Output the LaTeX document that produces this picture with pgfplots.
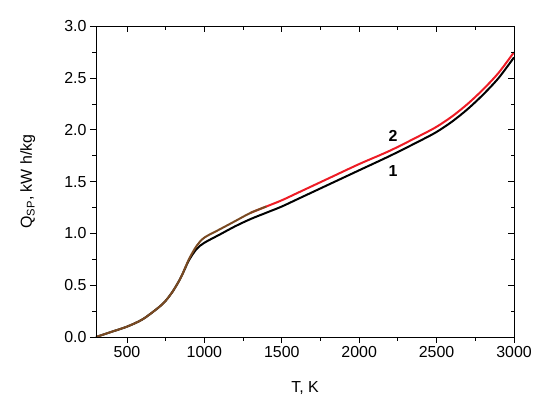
\documentclass[border=0pt]{standalone}
\usepackage{fontspec}
\setmainfont{Liberation Sans}
\usepackage{pgfplots}
\pgfplotsset{compat=1.18}
\definecolor{curvered}{HTML}{EE1C25}
\definecolor{curvebrown}{HTML}{7A4A22}

\begin{document}
\begin{tikzpicture}[x=1bp,y=1bp]
\path[use as bounding box] (-96,-69) rectangle (454,337);
\pgfplotsset{
  chartbase/.style={
    at={(0,0)}, anchor=south west,
    scale only axis, width=418bp, height=310.7bp,
    xmin=300, xmax=3000, ymin=0, ymax=3,
    xtick={500,1000,...,3000}, ytick={0,0.5,...,3},
    minor x tick num=1, minor y tick num=1,
    major tick length=6bp, minor tick length=3.5bp,
    axis line style={line width=0.9bp},
    every tick/.style={line width=0.9bp, black},
    /pgf/number format/assume math mode=true,
  },
}
% left and bottom: ticks outside, with labels
\begin{axis}[chartbase,
  xtick pos=bottom, ytick pos=left, tick align=outside,
  xticklabel style={font=\fontsize{16}{18}\selectfont, /pgf/number format/1000 sep={}},
  yticklabel style={font=\fontsize{16}{18}\selectfont, /pgf/number format/.cd, fixed, fixed zerofill, precision=1},
  xlabel={T, K}, ylabel={Q\textsubscript{SP}, kW h/kg},
  label style={font=\fontsize{16}{18}\selectfont},
  xlabel style={at={(axis description cs:0.5,-0.164)}, anchor=center},
  ylabel style={at={(axis description cs:-0.163,0.5)}, anchor=center},
]
% curve 1
\addplot[black, line width=2bp, smooth, tension=0.5] coordinates {
(300,0.0) (400,0.05) (500,0.10) (600,0.17) (700,0.28) (750,0.35) (800,0.45) (850,0.58)
(900,0.74) (950,0.85) (1000,0.91) (1100,0.99) (1200,1.07) (1300,1.14)
(1400,1.20) (1500,1.26) (1600,1.33) (1800,1.47) (2000,1.61) (2200,1.75)
(2400,1.90) (2500,1.98) (2600,2.08) (2700,2.20) (2800,2.34) (2900,2.50) (3000,2.70)};
% curve 2
\addplot[curvered, line width=2bp, smooth, tension=0.5] coordinates {
(1300,1.20) (1400,1.26) (1500,1.32) (1600,1.39) (1800,1.53) (2000,1.67)
(2200,1.80) (2400,1.95) (2500,2.03) (2600,2.13) (2700,2.25) (2800,2.39)
(2900,2.55) (3000,2.75)};
\addplot[curvebrown, line width=2bp, smooth, tension=0.5] coordinates {
(300,0.0) (400,0.05) (500,0.10) (600,0.17) (700,0.28) (750,0.35) (800,0.45) (850,0.58)
(900,0.75) (950,0.88) (1000,0.96) (1100,1.04) (1200,1.12) (1300,1.20) (1400,1.26)};
\node[font=\bfseries\fontsize{16}{18}\selectfont] at (axis cs:2218,1.94) {2};
\node[font=\bfseries\fontsize{16}{18}\selectfont] at (axis cs:2218,1.60) {1};
\end{axis}
% top and right: ticks inside, no labels
\begin{axis}[chartbase,
  xtick pos=top, ytick pos=right, tick align=inside,
  xticklabels={}, yticklabels={},
]
\end{axis}
\end{tikzpicture}
\end{document}
